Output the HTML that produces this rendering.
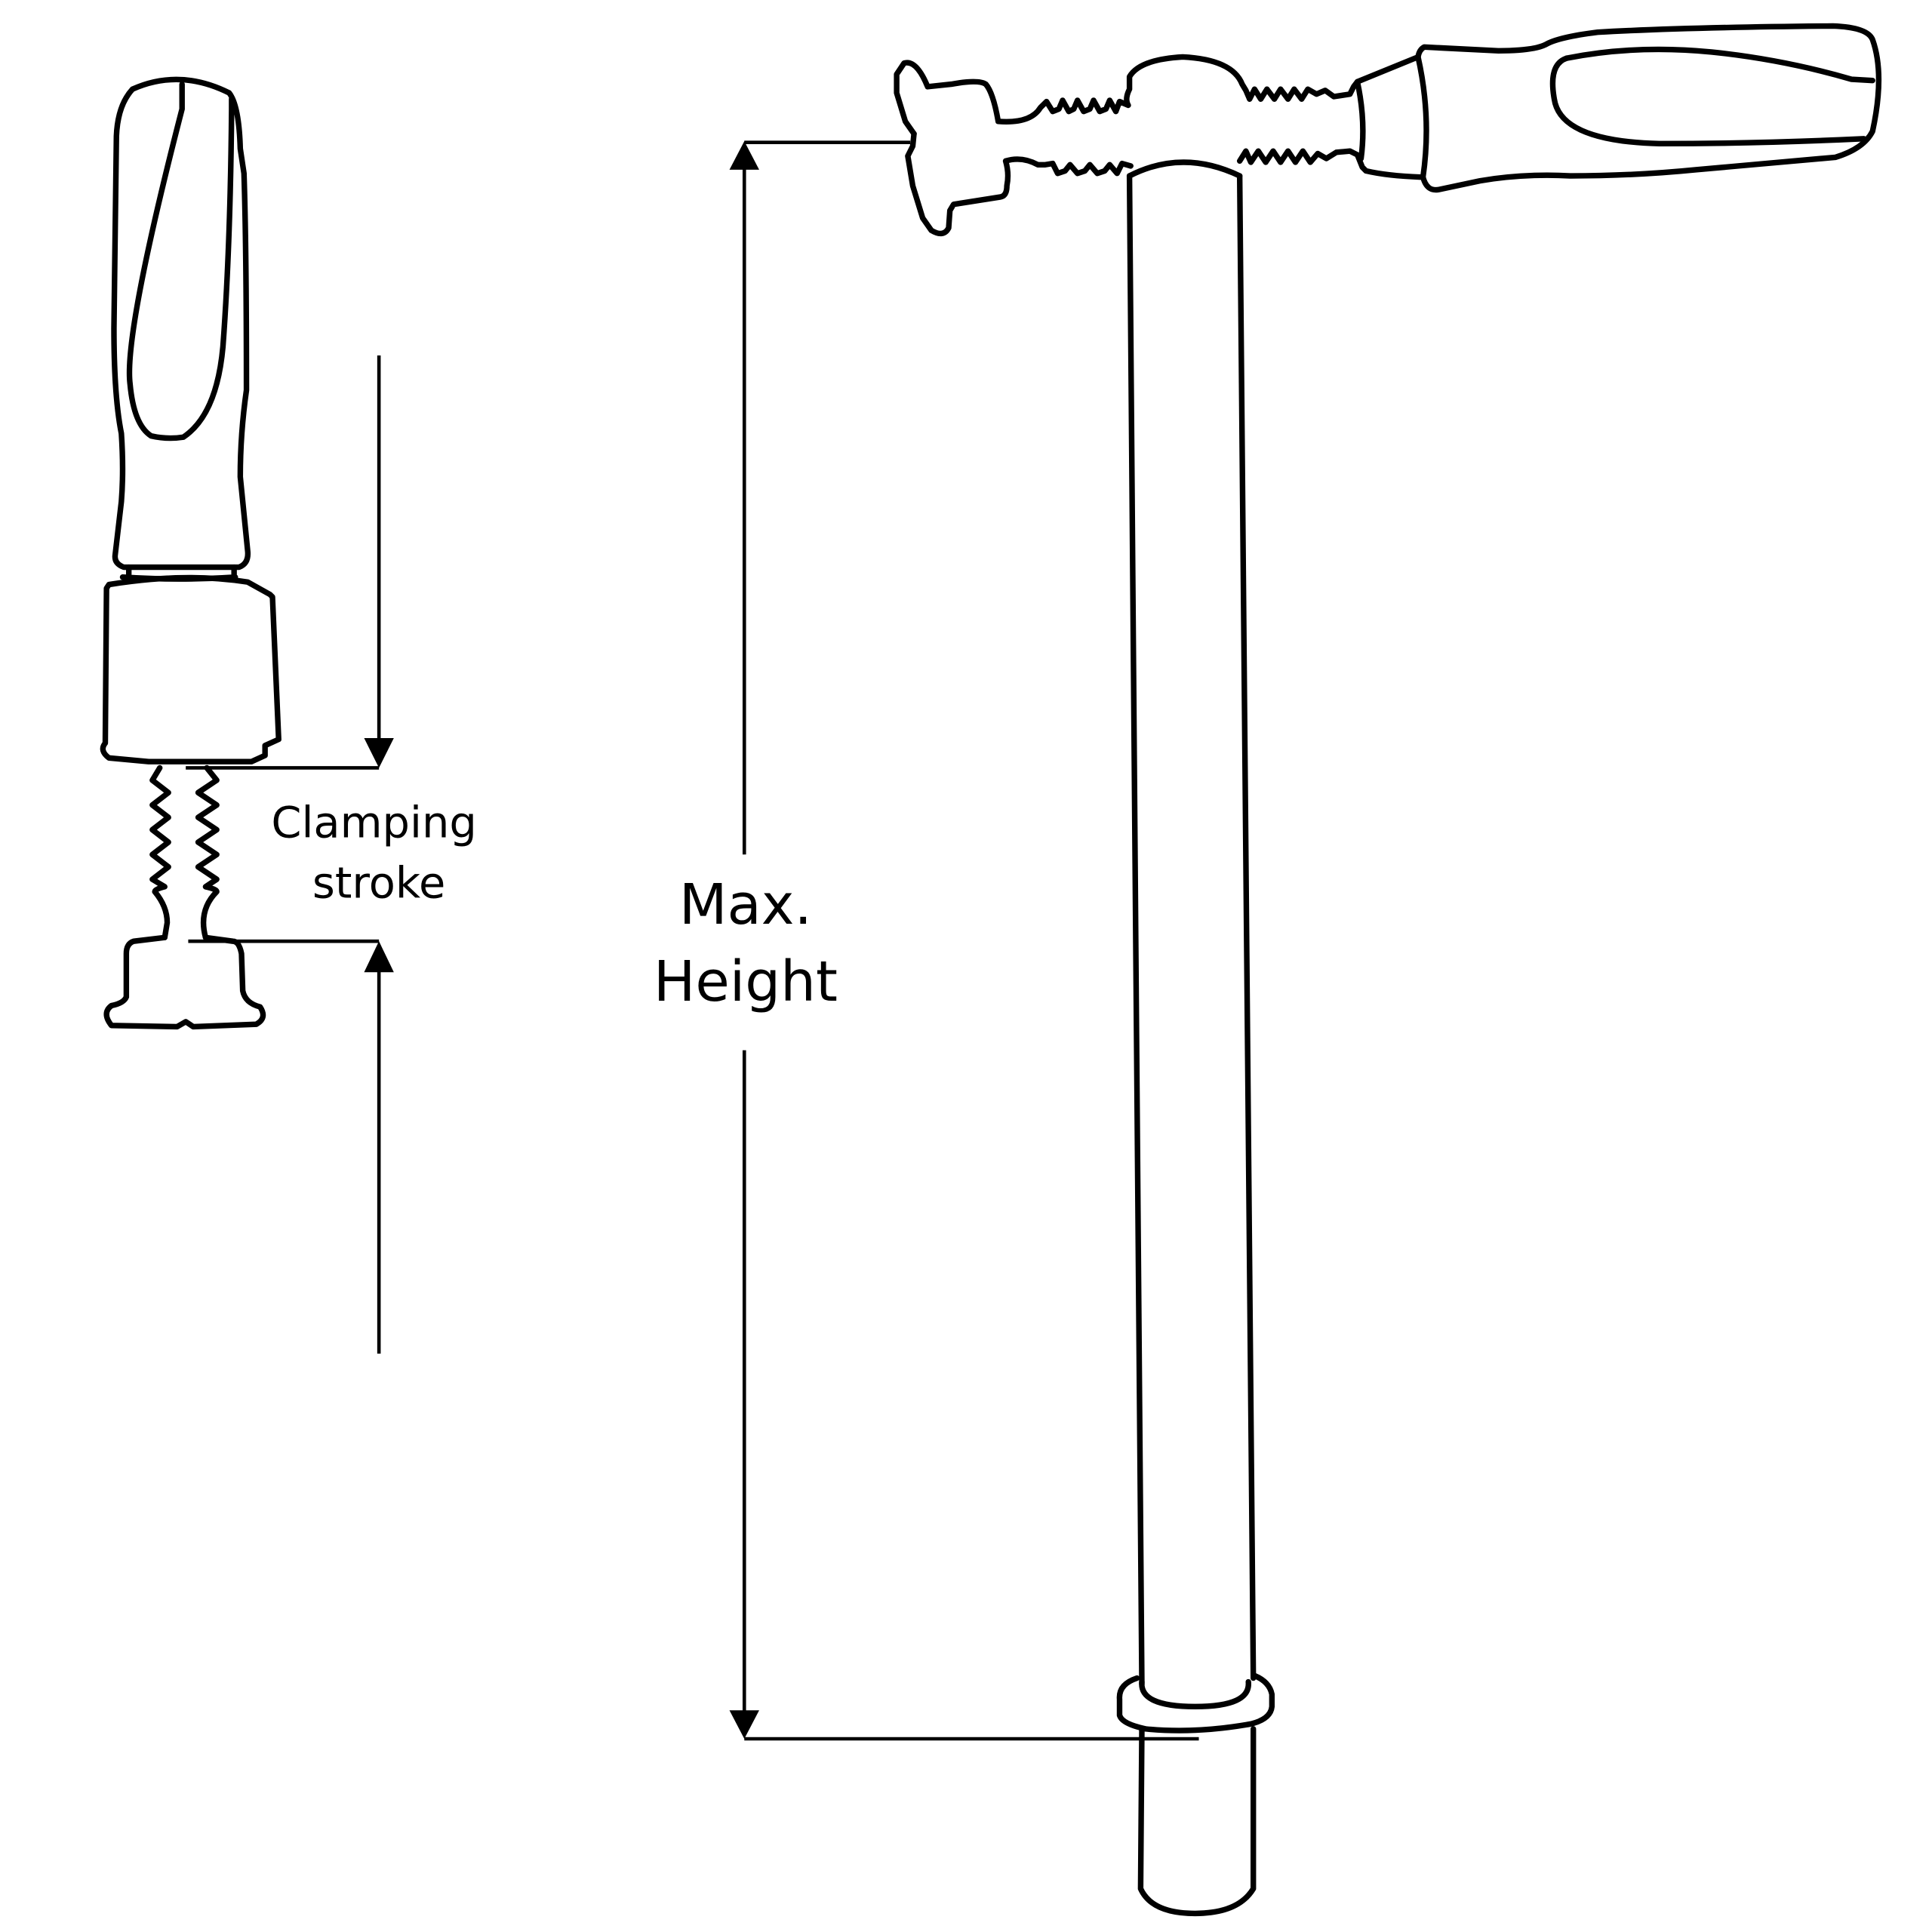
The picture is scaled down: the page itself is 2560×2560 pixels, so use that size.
<!DOCTYPE html>
<html><head><style>html,body{margin:0;padding:0;background:#fff}svg{display:block}</style></head>
<body>
<svg width="2560" height="2560" viewBox="0 0 1560 1560" xmlns="http://www.w3.org/2000/svg">
<g fill="none" stroke="#000" stroke-width="4.5" stroke-linejoin="round" stroke-linecap="round">
<path d="M107,72 Q145,55 185,75 Q193,85 194,120 L197,140 Q199,200 199,315 Q194,350 194,385 L200,445 Q201,455 193,458 L100,458 Q92,455 93,448 L98,405 Q100,380 98,350 Q92,320 92,265 L94,110 Q95,85 107,72 Z"/>
<path d="M147,68 L147,88 Q100,270 105,310 Q108,343 122,352 Q135,355 148,353 Q175,335 180,280 Q186,200 187,88 L187,80"/>
<path d="M104,458 L104,466 M189,458 L189,466 M99,466 Q145,469 190,466"/>
<path d="M88,472 Q150,462 200,470 L218,480 L220,482 L225,597 L214,602 L214,610 L203,615 L120,615 L88,612 Q80,606 85,600 L86,475 Z"/>
<path d="M129,620 L123,630 L136,640 L123,650 L136,660 L123,670 L136,680 L123,690 L136,700 L123,710 L133,716 Q125,718 125,720 Q135,732 135,745 L133,757"/>
<path d="M167,620 L175,630 L160,640 L175,650 L160,660 L175,670 L160,680 L175,690 L160,700 L175,710 L166,716 Q175,718 175,720 Q160,735 166,757"/>
<path d="M133,757 L108,760 Q102,762 102,770 L102,805 Q100,810 90,812 Q82,818 90,828 L143,829 L150,825 L156,829 L207,827 Q216,822 210,813 Q198,810 196,800 L195,770 Q193,760 188,760 L166,757"/>
<path d="M912,142 L922,1360 M1001,142 L1012,1355"/>
<path d="M922,1358 Q920,1378 965,1378 Q1010,1378 1008,1358"/>
<path d="M918,1355 Q903,1360 904,1372 L904,1385 Q906,1392 925,1396 Q965,1400 1010,1392 Q1026,1388 1027,1378 L1027,1368 Q1025,1358 1013,1353"/>
<path d="M922,1396 L921,1525 Q930,1545 965,1545 Q1000,1545 1012,1525 L1012,1396"/>
<path d="M912,142 Q955,120 1001,142"/>
<path d="M738,108 L731,98 L724,75 L724,60 L730,51 Q740,48 749,70 L768,68 Q790,64 796,68 Q802,75 806,98 Q832,100 840,87 L845,82 L850,90 L855,88 L858,81 L863,90 L867,88 L870,81 L875,90 L880,88 L883,81 L888,90 L893,88 L896,81 L901,90 L904,82 L911,85 Q908,80 912,72 L912,62 Q920,48 955,46 Q995,48 1003,68 L1006,73 L1009,80 L1013,72 L1018,80 L1023,72 L1029,80 L1034,72 L1040,80 L1045,72 L1051,80 L1056,72 L1063,76 L1070,73 L1077,78 L1090,76 L1093,70 L1096,66 L1145,46"/>
<path d="M738,108 L737,118 L733,126 L737,150 L745,176 L752,186 Q762,192 766,184 L767,170 L770,165 L808,159 Q813,158 813,150 Q815,140 812,130 Q825,126 838,133 L844,133 L850,132 L854,140 L860,138 L864,133 L870,140 L876,138 L880,133 L886,140 L892,138 L896,133 L902,140 L906,132 L913,134 M1001,130 L1006,122 L1010,131 L1016,122 L1022,131 L1028,122 L1034,131 L1040,122 L1046,131 L1052,122 L1058,131 L1064,124 L1071,128 L1079,123 L1090,122 L1096,125 L1100,135 L1103,138 Q1120,142 1147,143"/>
<path d="M1096,66 Q1103,98 1099,128"/>
<path d="M1145,46 Q1156,95 1149,143 Q1152,155 1162,153 L1195,146 Q1230,140 1268,142 Q1320,142 1370,137 L1482,127 Q1505,120 1512,106 Q1522,60 1512,32 Q1508,22 1480,21 Q1360,22 1290,26 Q1258,30 1248,36 Q1238,41 1210,41 L1150,38 Q1146,40 1145,46 Z"/>
<path d="M1265,47 Q1320,36 1382,42 Q1440,48 1495,64 L1512,65"/>
<path d="M1505,112 Q1420,116 1340,116 Q1260,114 1255,80 Q1250,52 1265,47"/>
</g>
<g fill="none" stroke="#000" stroke-width="2.8">
<path d="M306,287 L306,597 M150,620 L306,620 M152,760 L306,760 M306,784 L306,1093"/>
<path d="M601,136 L601,690 M601,848 L601,1382 M601,115 L735,115 M601,1404 L968,1404"/>
</g>
<g fill="#000">
<path d="M294,596 L318,596 L306,620 Z"/>
<path d="M294,785 L318,785 L306,760 Z"/>
<path d="M589,137 L613,137 L601,114 Z"/>
<path d="M589,1381 L613,1381 L601,1404 Z"/>
</g>
<g font-family="'DejaVu Sans','Liberation Sans',sans-serif" text-anchor="middle" fill="#000">
<text x="302" y="676" font-size="35">Clamping</text>
<text x="306" y="725" font-size="35">stroke</text>
<text x="602" y="746" font-size="45">Max.</text>
<text x="602" y="808" font-size="45">Height</text>
</g>
</svg>
</body></html>
